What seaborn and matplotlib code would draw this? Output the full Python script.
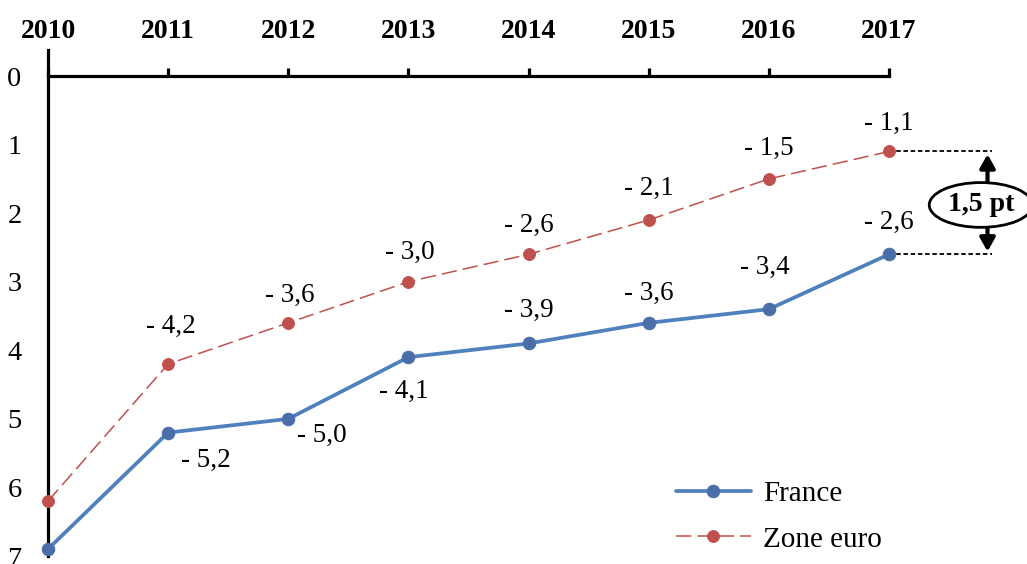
import matplotlib
matplotlib.use("Agg")
import matplotlib.pyplot as plt
import seaborn as sns
import pandas as pd

# data
years = [2010, 2011, 2012, 2013, 2014, 2015, 2016, 2017]
france = [6.9, 5.2, 5.0, 4.1, 3.9, 3.6, 3.4, 2.6]
zone_euro = [6.2, 4.2, 3.6, 3.0, 2.6, 2.1, 1.5, 1.1]
gap_label = "1,5 pt"

# label offsets (points), None = no label
off_fr = [None, (27, -20), (24, -12), (-3, -25), (0, 24), (0, 21), (-3, 30), (0, 23)]
off_ze = [None, (2, 27), (1, 20), (1, 21), (0, 21), (0, 23), (0, 22), (0, 20)]

sns.set_style("white")
plt.rcParams["font.family"] = ["Liberation Serif", "DejaVu Serif"]
plt.rcParams["text.color"] = "black"
plt.rcParams["xtick.color"] = "black"
plt.rcParams["ytick.color"] = "black"

blue = "#4F81BD"
blue_dark = "#4A6FA8"
red = "#C0504D"

df = pd.DataFrame({"year": years, "France": france, "Zone euro": zone_euro})

fig = plt.figure(figsize=(10.27, 5.64), dpi=100)
ax = fig.add_axes([48 / 1027, 8 / 564, (889 - 48) / 1027, (556 - 50) / 564])

sns.lineplot(data=df, x="year", y="France", ax=ax, color=blue, lw=2.7,
             marker="o", markersize=9, markerfacecolor=blue_dark,
             markeredgecolor=blue_dark, label="France", clip_on=False, zorder=3)
sns.lineplot(data=df, x="year", y="Zone euro", ax=ax, color=red, lw=1.1,
             marker="o", markersize=8.5, markerfacecolor=red,
             markeredgecolor=red, label="Zone euro", clip_on=False, zorder=3)
ax.lines[-1].set_dashes([10, 4])

def fmt(v):
    return "- " + f"{v:.1f}".replace(".", ",")

for x, v, o in zip(years, france, off_fr):
    if o is not None:
        ax.annotate(fmt(v), (x, v), xytext=o, textcoords="offset points",
                    ha="center", va="center", fontsize=19.5)
for x, v, o in zip(years, zone_euro, off_ze):
    if o is not None:
        ax.annotate(fmt(v), (x, v), xytext=o, textcoords="offset points",
                    ha="center", va="center", fontsize=19.5)

# axes
ax.set_xlim(2010, 2017)
ax.set_ylim(7, -0.38)
ax.set_xticks(years)
ax.set_yticks(range(0, 8))
ax.xaxis.tick_top()
ax.spines["top"].set_position(("data", 0))
ax.spines["bottom"].set_visible(False)
ax.spines["right"].set_visible(False)
for s in ["top", "left"]:
    ax.spines[s].set_linewidth(2.3)
    ax.spines[s].set_color("black")
ax.tick_params(axis="x", direction="out", length=6, width=2.3, pad=17,
               labelsize=20)
ax.tick_params(axis="y", direction="out", length=7, width=2.3, pad=12,
               labelsize=20.5)
for t in ax.get_xticklabels():
    t.set_fontweight("bold")
ax.set_xlabel("")
ax.set_ylabel("")

# gap annotation
xr = 2017.86
for v in [zone_euro[-1], france[-1]]:
    ax.plot([2017, xr], [v, v], color="black", lw=1.3, ls=(0, (2.5, 1.5)),
            clip_on=False)
xa = 2017.82
head = "-|>,head_width=0.45,head_length=0.8"
ax.annotate("", xy=(xa, zone_euro[-1]), xytext=(xa, 1.6),
            arrowprops=dict(arrowstyle=head, lw=3, color="black"),
            annotation_clip=False)
ax.annotate("", xy=(xa, france[-1]), xytext=(xa, 2.15),
            arrowprops=dict(arrowstyle=head, lw=3, color="black"),
            annotation_clip=False)
ax.text(2017.765, 1.88, gap_label, ha="center", va="center", fontsize=20,
        fontweight="bold",
        bbox=dict(boxstyle="ellipse,pad=0.12", fc="white", ec="black", lw=2),
        clip_on=False, zorder=5)

# legend
leg = ax.legend(loc="lower left", bbox_to_anchor=(0.715, -0.045), frameon=False,
                fontsize=21, handlelength=2.6, handletextpad=0.4,
                labelspacing=0.65)

fig.savefig("out.png", dpi=100)
